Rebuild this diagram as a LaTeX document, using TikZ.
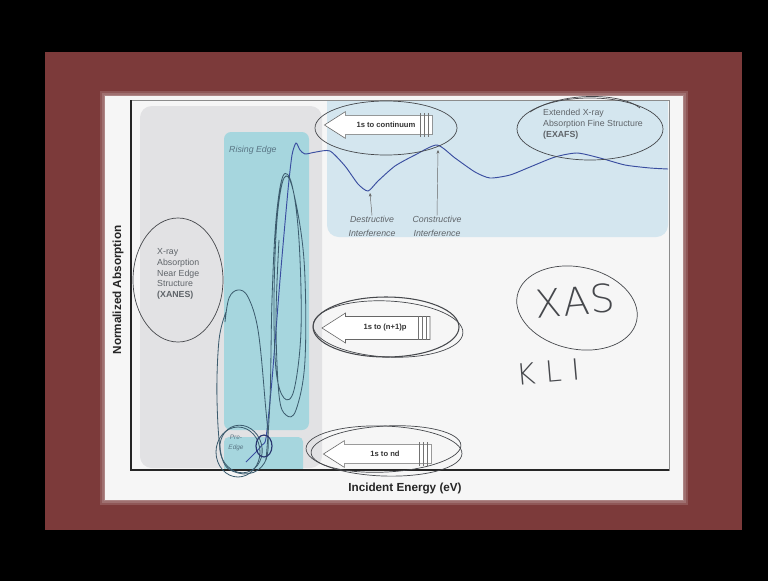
\documentclass[tikz,border=0pt]{standalone}
\usepackage{fontspec}
\setmainfont{Liberation Sans}
\newfontfamily\handfont{DejaVuSans-ExtraLight.ttf}
\usetikzlibrary{shapes.arrows,arrows.meta}

\definecolor{frameRed}{RGB}{124,58,58}
\definecolor{slideWhite}{RGB}{246,246,246}
\definecolor{xanesGray}{RGB}{226,226,228}
\definecolor{edgeTeal}{RGB}{166,214,222}
\definecolor{exafsBlue}{RGB}{212,230,239}
\definecolor{curveBlue}{RGB}{58,78,160}
\definecolor{penGray}{RGB}{70,72,76}
\definecolor{penTeal}{RGB}{60,92,110}
\definecolor{labelGray}{RGB}{95,100,105}

\tikzset{
  pen/.style={draw=penGray, line width=0.6pt},
  tealpen/.style={draw=penTeal, line width=0.7pt},
  arrowbox/.style={single arrow, shape border rotate=180, draw=black!60, fill=white,
    line width=0.5pt, single arrow head extend=1pt, single arrow tip angle=65,
    minimum height=3.24cm, inner sep=0pt, text=black!80,
    font=\fontsize{6.5}{7}\selectfont\bfseries},
  small/.style={font=\fontsize{7.5}{9.3}\selectfont, text=labelGray, align=left, inner sep=0pt},
  axislabel/.style={font=\fontsize{10}{12}\selectfont\bfseries, text=black!85, inner sep=0pt},
  hand/.style={text=penGray, inner sep=0pt},
}

\begin{document}
\begin{tikzpicture}[x=0.03cm, y=-0.03cm]
\useasboundingbox (0,0) rectangle (768,581);
% screen and slide frame
\fill[black] (0,0) rectangle (768,581);
\fill[frameRed] (45,52) rectangle (742,530);
\foreach \g in {5,3,1}
  \fill[white, opacity=0.15] (105-\g,96-\g) rectangle (683+\g,500+\g);
\fill[slideWhite] (105,96) rectangle (683,500);

% regions
\fill[xanesGray, rounded corners=10] (140,106) rectangle (322,468);
\fill[exafsBlue, rounded corners=10] (327,101) rectangle (668,237);
\fill[exafsBlue] (327,101) rectangle (668,120);
\fill[edgeTeal, rounded corners=6] (224,132) rectangle (309,430);
\fill[edgeTeal, rounded corners=4] (224,437) rectangle (303,475);
\fill[slideWhite] (224,470) rectangle (303,476);

% axes frame
\draw[black!45, line width=0.5pt] (131,100) rectangle (669,470);
\draw[black!85, line width=0.9pt] (131,100) -- (131,470) -- (669,470);

% absorption curve
\draw[curveBlue, line width=0.8pt] plot[smooth, tension=0.4] coordinates {
  (246,462) (256,452) (262,445) (266,438) (272,380) (280,280) (288,190)
  (292,155) (296,143) (300,150) (305,154) (316,152) (330,151) (345,166)
  (358,184) (368,191) (378,181) (395,166) (415,155) (437,145) (455,158)
  (475,172) (490,178) (510,175) (530,167) (555,157) (577,153) (600,158)
  (625,165) (650,168) (668,169)};

% slide labels
\node[small, anchor=north west] (xanes) at (157,248)
  {X-ray\\Absorption\\Near Edge\\Structure\\\textbf{(XANES)}};
\node[small, anchor=north west] (exafs) at (543,109)
  {Extended X-ray\\Absorption Fine Structure\\\textbf{(EXAFS)}};
\node[small, anchor=west, font=\fontsize{7.5}{8}\selectfont\itshape, text=penTeal!85] (rising) at (229,150) {Rising Edge};
\node[small, align=center, font=\fontsize{5.5}{8}\selectfont\itshape, text=penTeal!85] (pre) at (236,443) {Pre-\\Edge};
\node[small, align=center, font=\fontsize{7.5}{12}\selectfont\itshape] (destr) at (372,226) {Destructive\\Interference};
\node[small, align=center, font=\fontsize{7.5}{12}\selectfont\itshape] (constr) at (437,226) {Constructive\\Interference};
\coordinate (dmin) at (370,193);
\coordinate (cmax) at (438,150);
\draw[black!60, line width=0.4pt, -{Stealth[length=3pt,width=2.5pt]}] (destr.north) -- (dmin);
\draw[black!60, line width=0.4pt, -{Stealth[length=3pt,width=2.5pt]}] (constr.north) -- (cmax);

\node[axislabel, rotate=90] (ylab) at (118,290) {Normalized Absorption};
\node[axislabel] (xlab) at (405,488) {Incident Energy (eV)};

% transition arrows
\node[arrowbox, minimum width=0.8cm] (cont) at (386,125) {1s to continuum};
\node[arrowbox, minimum width=0.9cm] (np) at (385,328) {1s to (n+1)p};
\node[arrowbox, minimum width=0.8cm] (nd) at (385,454) {1s to nd};
\foreach \a in {cont,np,nd}
  \foreach \s in {4,8,12}
    \draw[black!55, line width=0.4pt] ([shift={(-\s,-12)}]\a.tail) -- ([shift={(-\s,12)}]\a.tail);

% hand drawn marks
\draw[pen] (386,128) ellipse [x radius=71, y radius=27];
\draw[pen] (590,129) ellipse [x radius=73, y radius=31];
\draw[pen] (530,112) .. controls (560,92) and (620,92) .. (640,108);
\draw[pen] (178,280) ellipse [x radius=45, y radius=62];
\draw[pen, line width=0.9pt] (386,327) ellipse [x radius=73, y radius=30];
\draw[pen] (388,329) ellipse [x radius=75, y radius=28, rotate=-3];
\draw[pen] (384,451) ellipse [x radius=78, y radius=25, rotate=-2];
\draw[pen] (386,449) ellipse [x radius=75, y radius=23, rotate=3];
\draw[pen] (577,308) ellipse [x radius=61, y radius=41, rotate=-12];
\draw[tealpen] plot[smooth, tension=0.6] coordinates {(225,322) (229,298) (238,290)
  (248,297) (258,330) (265,400) (268,450) (258,470) (238,473) (222,458) (217,400)
  (219,340) (226,312)};
\draw[tealpen] plot[smooth, tension=0.6] coordinates {(266,460) (270,400) (272,300)
  (276,220) (283,176) (292,185) (299,240) (301,330) (294,390) (284,398) (276,370)
  (274,300) (277,220) (284,178) (293,190) (304,260) (305,360) (296,410) (286,415)
  (279,395) (276,320) (279,240)};
\draw[tealpen] (238,452) ellipse [x radius=22, y radius=25];
\draw[tealpen] (241,449) ellipse [x radius=21, y radius=24, rotate=15];
\draw[curveBlue!70!black, line width=1pt] (264,446) ellipse [x radius=8, y radius=11];

\node[hand, font=\handfont\fontsize{33}{34}\selectfont, rotate=5] (xas) at (575,301) {X\kern1ptA\kern1ptS};
\node[hand, font=\handfont\fontsize{25}{25}\selectfont, rotate=5] (kli) at (548,372) {K\,\,L\,\,I};
\end{tikzpicture}
\end{document}
